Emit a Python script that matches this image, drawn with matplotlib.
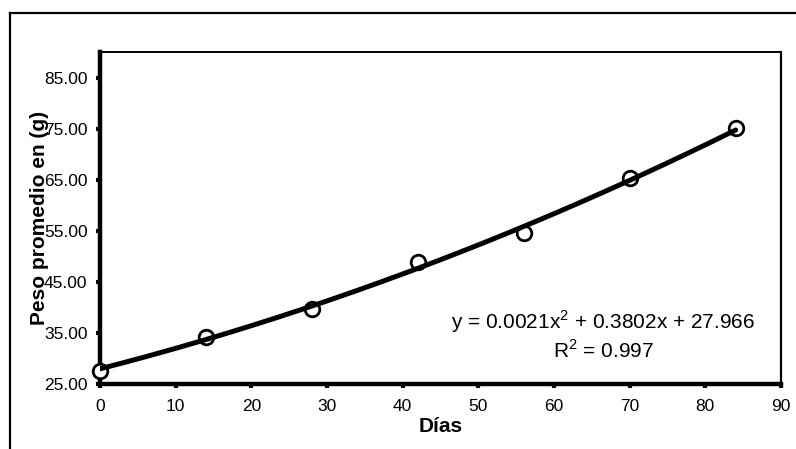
import numpy as np
import matplotlib
matplotlib.use("Agg")
import matplotlib.pyplot as plt
from matplotlib.lines import Line2D

# Data
DIAS = [0, 14, 28, 42, 56, 70, 84]
PESO = [27.5, 34.2, 39.6, 48.8, 54.5, 65.4, 75.2]

# Quadratic trendline coefficients (as printed on the chart)
TREND_COEFFS = [0.0021, 0.3802, 27.966]
EQ_TEXT = "y = 0.0021x$^2$ + 0.3802x + 27.966"
R2_TEXT = "R$^2$ = 0.997"

X_TICKS = [0, 10, 20, 30, 40, 50, 60, 70, 80, 90]
Y_TICKS = [25, 35, 45, 55, 65, 75, 85]

plt.rcParams["font.family"] = ["Liberation Sans", "DejaVu Sans"]
plt.rcParams["mathtext.fontset"] = "custom"
plt.rcParams["mathtext.rm"] = "Liberation Sans"

fig = plt.figure(figsize=(7.96, 4.49), dpi=100)
ax = fig.add_axes([0.1256, 0.1448, 0.8556, 0.7394])

# Outer chart frame (top and left edges visible)
fig.add_artist(Line2D([0.0126, 1.0], [0.971, 0.971], color="black",
                      lw=1.6, transform=fig.transFigure))
fig.add_artist(Line2D([0.0126, 0.0126], [0.0, 0.971], color="black",
                      lw=1.6, transform=fig.transFigure))

# Observed points
ax.plot(DIAS, PESO, linestyle="none", marker="o", markersize=10.5,
        markerfacecolor="white", markeredgecolor="black",
        markeredgewidth=2, zorder=3, clip_on=False)

# Trendline over the data range
xs = np.linspace(DIAS[0], DIAS[-1], 200)
ax.plot(xs, np.polyval(TREND_COEFFS, xs), color="black", lw=3.6,
        solid_capstyle="round", zorder=4)

ax.set_xlim(0, 90)
ax.set_ylim(25, 90)
ax.set_xticks(X_TICKS)
ax.set_yticks(Y_TICKS)
ax.set_yticklabels([f"{v:.2f}" for v in Y_TICKS])

ax.spines["left"].set_linewidth(3.2)
ax.spines["bottom"].set_linewidth(3.2)
ax.spines["top"].set_linewidth(1.4)
ax.spines["right"].set_linewidth(1.6)

ax.tick_params(axis="both", direction="out", length=3, width=3,
               labelsize=12.5, color="black")
ax.tick_params(axis="x", pad=8)
ax.tick_params(axis="y", pad=6)

ax.set_xlabel("Días", fontsize=15, fontweight="bold", labelpad=2)
ax.set_ylabel("Peso promedio en (g)", fontsize=15, fontweight="bold",
              labelpad=-4)

ax.text(66.5, 37.1, EQ_TEXT, fontsize=15, ha="center", va="center")
ax.text(66.5, 31.6, R2_TEXT, fontsize=15, ha="center", va="center")

fig.savefig("out.png", dpi=100)
